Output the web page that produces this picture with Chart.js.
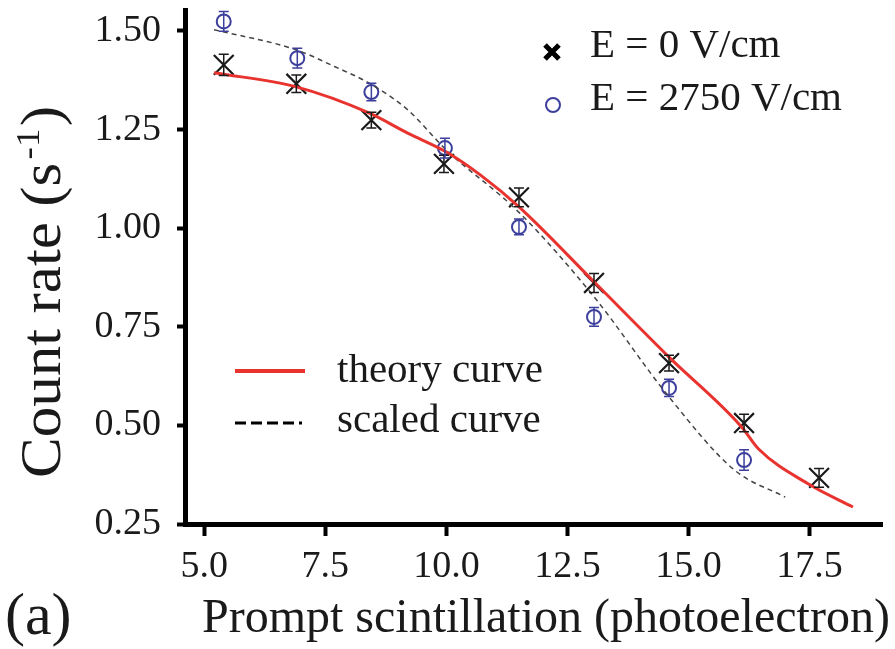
<!DOCTYPE html>
<html>
<head>
    <title>Count rate vs prompt scintillation</title>
    <script src="https://cdn.jsdelivr.net/npm/chart.js"></script>
    <style>
        body { margin: 0; background: #fff; }
        .chart-container {
            position: relative;
            width: 895px;
            height: 649px;
        }
    </style>
</head>
<body>
    <div class="chart-container">
        <canvas id="rateChart"></canvas>
    </div>

    <script>
        const promptPE0 = [5.4, 6.9, 8.45, 9.95, 11.5, 13.05, 14.6, 16.15, 17.7];
        const rate0 = [1.414, 1.366, 1.274, 1.163, 1.078, 0.861, 0.658, 0.506, 0.367];
        const err0 = [0.027, 0.022, 0.02, 0.022, 0.024, 0.024, 0.02, 0.022, 0.024];

        const promptPE2750 = [5.4, 6.92, 8.45, 9.97, 11.5, 13.05, 14.6, 16.15];
        const rate2750 = [1.524, 1.431, 1.345, 1.203, 1.003, 0.775, 0.595, 0.412];
        const err2750 = [0.025, 0.025, 0.022, 0.025, 0.02, 0.024, 0.022, 0.026];

        // curves
        const theoryX = [5.2, 6.9, 8.4, 9.2, 10.0, 10.7, 11.5, 13.05, 14.6, 16.1, 16.45, 17.5, 18.4];
        const theoryY = [1.394, 1.358, 1.292, 1.241, 1.193, 1.135, 1.054, 0.864, 0.673, 0.496, 0.44, 0.35, 0.293];
        const scaledX = [5.2, 6.9, 7.7, 8.4, 9.2, 10.0, 11.5, 13.05, 14.6, 15.95, 17.0];
        const scaledY = [1.503, 1.452, 1.409, 1.368, 1.30, 1.198, 1.04, 0.826, 0.572, 0.387, 0.318];

        const xTicks = [5.0, 7.5, 10.0, 12.5, 15.0, 17.5];
        const yTicks = [0.25, 0.50, 0.75, 1.00, 1.25, 1.50];

        const serif = "'Liberation Serif', 'Times New Roman', serif";
        const red = '#e8332f';
        const blue = '#3c3f9c';
        const ink = '#1a1a1a';

        function toPoints(xs, ys) {
            return xs.map((x, i) => ({ x: x, y: ys[i] }));
        }

        // vertical error bars with caps
        const errorBars = {
            id: 'errorBars',
            afterDatasetsDraw(chart) {
                const ctx = chart.ctx;
                const yScale = chart.scales.y;
                chart.data.datasets.forEach((ds, i) => {
                    if (!ds.errors) return;
                    const meta = chart.getDatasetMeta(i);
                    ctx.save();
                    ctx.strokeStyle = ds.borderColor;
                    ctx.lineWidth = 1.5;
                    meta.data.forEach((pt, j) => {
                        const v = ds.data[j].y;
                        const top = yScale.getPixelForValue(v + ds.errors[j]);
                        const bot = yScale.getPixelForValue(v - ds.errors[j]);
                        ctx.beginPath();
                        ctx.moveTo(pt.x, top);
                        ctx.lineTo(pt.x, bot);
                        ctx.moveTo(pt.x - 5, top);
                        ctx.lineTo(pt.x + 5, top);
                        ctx.moveTo(pt.x - 5, bot);
                        ctx.lineTo(pt.x + 5, bot);
                        ctx.stroke();
                    });
                    ctx.restore();
                });
            }
        };

        // legends, axis titles and panel label
        const labels = {
            id: 'labels',
            afterDraw(chart) {
                const ctx = chart.ctx;
                ctx.save();
                ctx.fillStyle = ink;
                ctx.textBaseline = 'alphabetic';
                ctx.textAlign = 'left';

                // top-right legend
                ctx.strokeStyle = '#000';
                ctx.lineWidth = 5;
                ctx.beginPath();
                ctx.moveTo(545, 45); ctx.lineTo(559, 59);
                ctx.moveTo(559, 45); ctx.lineTo(545, 59);
                ctx.stroke();
                ctx.strokeStyle = blue;
                ctx.lineWidth = 2;
                ctx.beginPath();
                ctx.arc(553, 105, 7, 0, Math.PI * 2);
                ctx.stroke();
                ctx.font = '41px ' + serif;
                ctx.fillText('E = 0 V/cm', 590, 57);
                ctx.fillText('E = 2750 V/cm', 590, 110);

                // lower legend
                ctx.strokeStyle = red;
                ctx.lineWidth = 4;
                ctx.beginPath();
                ctx.moveTo(235, 371); ctx.lineTo(305, 371);
                ctx.stroke();
                ctx.strokeStyle = '#000';
                ctx.lineWidth = 3;
                ctx.setLineDash([11, 5]);
                ctx.beginPath();
                ctx.moveTo(235, 423); ctx.lineTo(302, 423);
                ctx.stroke();
                ctx.setLineDash([]);
                ctx.fillText('theory curve', 337, 382);
                ctx.fillText('scaled curve', 337, 432);

                // x title and panel label
                ctx.font = '48px ' + serif;
                ctx.fillText('Prompt scintillation (photoelectron)', 202, 632);
                ctx.font = '60px ' + serif;
                ctx.fillText('(a)', 5, 634);

                // y title with superscript (slightly stretched along the text, like the original)
                ctx.translate(60, 478);
                ctx.rotate(-Math.PI / 2);
                ctx.scale(1.09, 1);
                ctx.font = '56px ' + serif;
                const main = 'Count rate (s';
                ctx.fillText(main, 0, 0);
                let w = ctx.measureText(main).width;
                ctx.font = '34px ' + serif;
                ctx.fillText('-1', w + 3, -21);
                w += 3 + ctx.measureText('-1').width;
                ctx.font = '56px ' + serif;
                ctx.fillText(')', w + 2, 0);
                ctx.restore();
            }
        };

        new Chart(document.getElementById('rateChart'), {
            type: 'scatter',
            data: {
                datasets: [{
                    label: 'theory curve',
                    data: toPoints(theoryX, theoryY),
                    showLine: true,
                    borderColor: red,
                    borderWidth: 3,
                    pointRadius: 0,
                    cubicInterpolationMode: 'monotone'
                }, {
                    label: 'scaled curve',
                    data: toPoints(scaledX, scaledY),
                    showLine: true,
                    borderColor: '#444',
                    borderWidth: 1.5,
                    borderDash: [5, 4],
                    pointRadius: 0,
                    cubicInterpolationMode: 'monotone'
                }, {
                    label: 'E = 0 V/cm',
                    data: toPoints(promptPE0, rate0),
                    errors: err0,
                    pointStyle: 'crossRot',
                    pointRadius: 14,
                    borderColor: ink,
                    borderWidth: 2.2
                }, {
                    label: 'E = 2750 V/cm',
                    data: toPoints(promptPE2750, rate2750),
                    errors: err2750,
                    pointStyle: 'circle',
                    pointRadius: 7,
                    borderColor: blue,
                    backgroundColor: 'rgba(0,0,0,0)',
                    borderWidth: 2
                }]
            },
            options: {
                responsive: true,
                maintainAspectRatio: false,
                animation: false,
                layout: {
                    autoPadding: false,
                    padding: { top: 10, right: 13, left: 0, bottom: 0 }
                },
                plugins: {
                    legend: { display: false },
                    tooltip: { enabled: false }
                },
                scales: {
                    x: {
                        type: 'linear',
                        min: 4.6,
                        max: 19,
                        afterBuildTicks: s => { s.ticks = xTicks.map(v => ({ value: v })); },
                        afterFit: s => {
                            s.height = 125;
                            s.paddingLeft = 0; s.paddingRight = 0;
                        },
                        grid: { drawOnChartArea: false, drawTicks: true, tickLength: 12, tickWidth: 4, color: '#000' },
                        border: { display: true, width: 5, color: '#000' },
                        ticks: {
                            font: { family: serif, size: 38 },
                            color: ink,
                            padding: 8,
                            maxRotation: 0,
                            callback: v => v.toFixed(1)
                        }
                    },
                    y: {
                        type: 'linear',
                        min: 0.25,
                        max: 1.553,
                        afterBuildTicks: s => { s.ticks = yTicks.map(v => ({ value: v })); },
                        afterFit: s => {
                            s.width = 185;
                            s.paddingTop = 0; s.paddingBottom = 0;
                        },
                        grid: { drawOnChartArea: false, drawTicks: true, tickLength: 8, tickWidth: 4, color: '#000' },
                        border: { display: true, width: 5, color: '#000' },
                        ticks: {
                            font: { family: serif, size: 38 },
                            color: ink,
                            padding: 16,
                            callback: v => v.toFixed(2)
                        }
                    }
                }
            },
            plugins: [errorBars, labels]
        });
    </script>
</body>
</html>
